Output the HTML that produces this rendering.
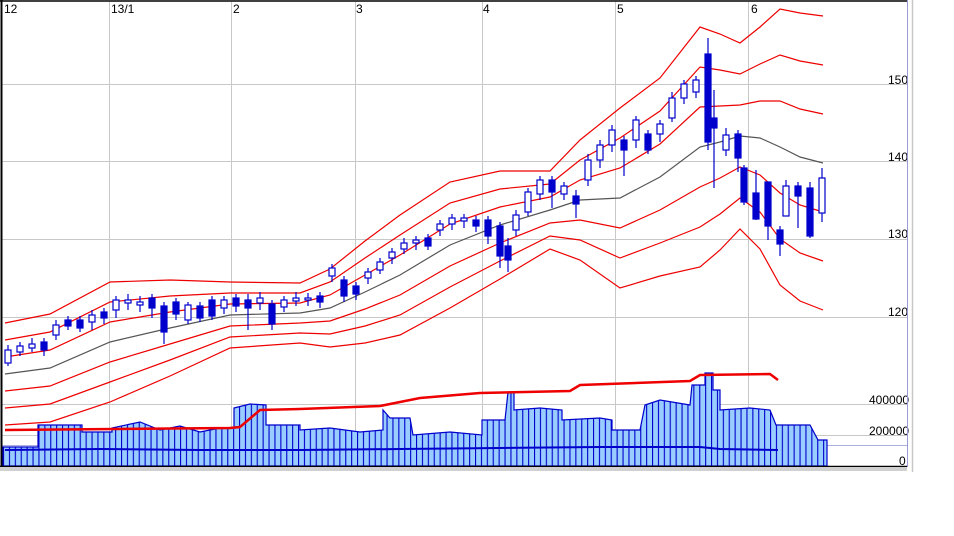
<!DOCTYPE html>
<html><head><meta charset="utf-8"><style>
body{margin:0;background:#fff;}
svg{display:block;font-family:"Liberation Sans","Noto Sans CJK JP",sans-serif;}
</style></head><body>
<svg width="954" height="536" xmlns="http://www.w3.org/2000/svg">
<defs>
<pattern id="vp" x="3" y="0" width="5.9" height="10" patternUnits="userSpaceOnUse"><line x1="0.5" y1="0" x2="0.5" y2="10" stroke="#0000cc" stroke-width="1.2"/></pattern>
<clipPath id="vc"><polygon id="vpoly" points="3,466 3,447 38,447 38,425 82,425 82,432 112,432 112,428 140,422 160,430 180,426 200,432 220,428 234,428 234,408 250,404 266,405 266,425 300,425 300,430 330,428 360,432 383,430 383,410 390,418 410,418 413,435 450,432 482,435 482,420 505,420 508,392 514,392 514,410 540,408 562,410 562,420 600,418 612,420 612,430 640,430 645,405 660,400 690,405 692,385 705,385 705,373 713,373 713,390 720,390 720,410 750,408 770,410 776,425 810,425 818,440 827,440 827,466"/></clipPath>
</defs>
<rect width="954" height="536" fill="#fff"/>
<g stroke="#c8c8c8" stroke-width="1">
<line x1="109.5" y1="2" x2="109.5" y2="466"/><line x1="231.5" y1="2" x2="231.5" y2="466"/>
<line x1="355.5" y1="2" x2="355.5" y2="466"/><line x1="482.5" y1="2" x2="482.5" y2="466"/>
<line x1="615.5" y1="2" x2="615.5" y2="466"/><line x1="748.5" y1="2" x2="748.5" y2="466"/>
<line x1="2" y1="84.5" x2="907" y2="84.5"/><line x1="2" y1="161.5" x2="907" y2="161.5"/>
<line x1="2" y1="239.5" x2="907" y2="239.5"/><line x1="2" y1="317.5" x2="907" y2="317.5"/>
<line x1="2" y1="404.5" x2="907" y2="404.5"/><line x1="2" y1="435.5" x2="907" y2="435.5"/>
</g>
<line x1="2" y1="445.5" x2="907" y2="445.5" stroke="#aab0e0"/>
<g font-size="12" fill="#000">
<text x="4" y="13">12</text><text x="111" y="13">13/1</text><text x="233" y="13">2</text>
<text x="356" y="13">3</text><text x="483" y="13">4</text><text x="617" y="13">5</text><text x="751" y="13">6</text>
<text x="888" y="84">150</text><text x="888" y="161">140</text><text x="888" y="238">130</text><text x="888" y="316">120</text>
<text x="869" y="404">400000</text><text x="869" y="435">200000</text><text x="899" y="465">0</text>
</g>
<!-- volume -->
<polygon points="3,466 3,447 38,447 38,425 82,425 82,432 112,432 112,428 140,422 160,430 180,426 200,432 220,428 234,428 234,408 250,404 266,405 266,425 300,425 300,430 330,428 360,432 383,430 383,410 390,418 410,418 413,435 450,432 482,435 482,420 505,420 508,392 514,392 514,410 540,408 562,410 562,420 600,418 612,420 612,430 640,430 645,405 660,400 690,405 692,385 705,385 705,373 713,373 713,390 720,390 720,410 750,408 770,410 776,425 810,425 818,440 827,440 827,466" fill="#99ccff" stroke="#0000cc" stroke-width="1.2"/>
<rect x="0" y="360" width="830" height="110" fill="url(#vp)" clip-path="url(#vc)"/>
<polyline fill="none" stroke="#ee0000" stroke-width="2.5" points="5,430 230,428 240,427 260,410 300,409 380,406 420,398 480,393 570,391 580,385 690,381 700,375 770,374 778,380"/>
<polyline fill="none" stroke="#0000cc" stroke-width="2" points="5,450 100,449 200,450 300,450 400,449 500,448 600,447 700,447 720,449 778,450"/>
<!-- bands -->
<g fill="none" stroke="#ee0000" stroke-width="1.2">
<polyline points="5,323 50,314 110,282 170,280 230,282 300,283 330,269 365,241 400,215 450,182 500,171 550,171 580,140 620,108 660,78 700,27 720,34 740,43 760,27 780,9 800,13 823,16"/>
<polyline points="5,340 50,332 110,302 170,296 230,293 300,293 330,282 365,258 400,235 450,203 500,189 550,184 580,160 620,138 660,111 700,67 720,70 740,74 760,64 780,55 800,61 823,65"/>
<polyline points="5,357 50,350 110,322 170,312 230,304 300,303 330,295 365,275 400,255 450,224 500,207 550,197 580,180 620,168 660,144 700,107 720,106 740,105 760,101 780,101 800,109 823,114"/>
<polyline points="5,391 50,386 110,362 170,344 230,326 300,323 330,321 365,309 400,295 450,266 500,243 550,223 580,220 620,228 660,210 700,187 720,178 740,167 760,175 780,193 800,205 823,212"/>
<polyline points="5,408 50,404 110,382 170,360 230,337 300,333 330,334 365,326 400,315 450,287 500,261 550,236 580,240 620,258 660,243 700,227 720,214 740,198 760,212 780,239 800,253 823,261"/>
<polyline points="5,425 50,422 110,402 170,376 230,348 300,343 330,347 365,343 400,335 450,308 500,279 550,249 580,260 620,288 660,276 700,267 720,250 740,229 760,249 780,285 800,301 823,310"/>
</g>
<polyline fill="none" stroke="#555" stroke-width="1.2" points="5,374 50,368 110,342 170,328 230,315 300,313 330,308 365,292 400,275 450,245 500,225 550,210 580,200 620,198 660,177 700,147 720,142 740,136 760,138 780,147 800,157 823,163"/>
<!-- candles -->
<g stroke="#0000cc" stroke-width="1.2">
<g fill="#fff">
<path d="M8 345V366M20 342V356M32 338V352M56 320V340M92 310V330M116 296V318M128 294V310M140 296V312M188 302V324M224 296V314M260 292V310M284 296V312M296 292V306M308 293V306M332 264V282M368 268V284M380 258V274M392 248V264M404 238V254M416 236V250M440 220V236M452 214V230M464 214V228M516 210V236M528 188V216M540 176V200M564 182V200M588 154V186M600 140V168M612 125V152M636 116V148M660 120V142M672 92V122M684 80V104M696 76V98M726 128V156M786 180V208M822 168V222"/>
</g>
<g fill="#fff">
<rect x="5" y="350" width="6" height="13"/><rect x="17" y="346" width="6" height="6"/><rect x="29" y="344" width="6" height="4"/><rect x="53" y="325" width="6" height="10"/><rect x="89" y="315" width="6" height="7"/><rect x="113" y="300" width="6" height="10"/><rect x="125" y="300" width="6" height="3"/><rect x="137" y="302" width="6" height="3"/><rect x="185" y="305" width="6" height="15"/><rect x="221" y="300" width="6" height="8"/><rect x="257" y="298" width="6" height="5"/><rect x="281" y="300" width="6" height="7"/><rect x="293" y="298" width="6" height="3"/><rect x="305" y="298" width="6" height="2"/><rect x="329" y="268" width="6" height="8"/><rect x="365" y="272" width="6" height="6"/><rect x="377" y="262" width="6" height="8"/><rect x="389" y="252" width="6" height="6"/><rect x="401" y="243" width="6" height="6"/><rect x="413" y="240" width="6" height="3"/><rect x="437" y="224" width="6" height="6"/><rect x="449" y="218" width="6" height="6"/><rect x="461" y="218" width="6" height="3"/><rect x="513" y="215" width="6" height="15"/><rect x="525" y="192" width="6" height="20"/><rect x="537" y="180" width="6" height="14"/><rect x="561" y="186" width="6" height="8"/><rect x="585" y="160" width="6" height="20"/><rect x="597" y="145" width="6" height="15"/><rect x="609" y="130" width="6" height="15"/><rect x="633" y="120" width="6" height="20"/><rect x="657" y="124" width="6" height="10"/><rect x="669" y="98" width="6" height="20"/><rect x="681" y="84" width="6" height="14"/><rect x="693" y="80" width="6" height="12"/><rect x="723" y="135" width="6" height="15"/><rect x="783" y="186" width="6" height="30"/><rect x="819" y="178" width="6" height="35"/>
</g>
<path d="M44 338V356M68 316V330M80 316V332M104 308V324M152 294V318M164 302V344M176 298V320M200 302V322M212 296V320M236 294V312M248 294V330M272 300V330M320 292V308M344 276V302M356 282V300M428 234V250M476 216V232M488 216V244M500 222V268M508 238V272M552 176V208M576 190V218M624 136V176M648 130V154M708 38V150M714 90V188M738 130V172M744 165V205M756 170V220M768 184V240M780 226V256M798 182V228M810 182V238"/>
<g fill="#0000cc">
<rect x="41" y="342" width="6" height="8"/><rect x="65" y="320" width="6" height="6"/><rect x="77" y="320" width="6" height="8"/><rect x="101" y="312" width="6" height="6"/><rect x="149" y="298" width="6" height="10"/><rect x="161" y="306" width="6" height="26"/><rect x="173" y="302" width="6" height="12"/><rect x="197" y="306" width="6" height="12"/><rect x="209" y="300" width="6" height="16"/><rect x="233" y="298" width="6" height="8"/><rect x="245" y="300" width="6" height="8"/><rect x="269" y="304" width="6" height="20"/><rect x="317" y="296" width="6" height="6"/><rect x="341" y="280" width="6" height="16"/><rect x="353" y="286" width="6" height="8"/><rect x="425" y="238" width="6" height="8"/><rect x="473" y="220" width="6" height="6"/><rect x="485" y="220" width="6" height="16"/><rect x="497" y="226" width="6" height="30"/><rect x="505" y="246" width="6" height="14"/><rect x="549" y="180" width="6" height="12"/><rect x="573" y="196" width="6" height="8"/><rect x="621" y="140" width="6" height="10"/><rect x="645" y="134" width="6" height="16"/><rect x="705" y="54" width="6" height="88"/><rect x="711" y="118" width="6" height="10"/><rect x="735" y="134" width="6" height="24"/><rect x="741" y="168" width="6" height="34"/><rect x="753" y="193" width="6" height="26"/><rect x="765" y="182" width="6" height="44"/><rect x="777" y="230" width="6" height="14"/><rect x="795" y="186" width="6" height="10"/><rect x="807" y="188" width="6" height="48"/>
</g>
</g>
<line x1="1.5" y1="0" x2="1.5" y2="467" stroke="#000" stroke-width="2"/>
<line x1="0" y1="1" x2="907" y2="1" stroke="#000" stroke-width="1.5"/>
<line x1="0" y1="466.5" x2="907" y2="466.5" stroke="#000" stroke-width="1.5"/>
<rect x="0" y="467" width="907" height="4" fill="#d0d0d0"/>
<line x1="907.5" y1="0" x2="907.5" y2="467" stroke="#9a9ad8"/>
<line x1="912.5" y1="0" x2="912.5" y2="472" stroke="#c8c8c8" stroke-width="1.5"/>
</svg>
</body></html>
